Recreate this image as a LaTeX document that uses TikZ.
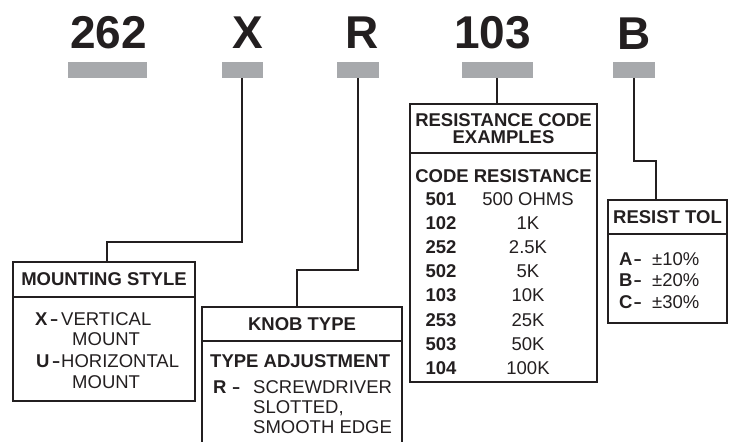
\documentclass[tikz,border=0pt]{standalone}
\usepackage{fontspec}
\setmainfont{Liberation Sans}
\usepackage{tikz}
\definecolor{BarGray}{RGB}{167,169,172}
\definecolor{InkBlack}{RGB}{35,31,32}
\usetikzlibrary{positioning}
\newcommand{\keydash}{\scalebox{0.7}[1]{--}}

\begin{document}
\begin{tikzpicture}[x=1pt, y=-1pt, font=\fontsize{18.5}{21}\selectfont, color=InkBlack]
    \tikzset{
        codechar/.style={font=\fontsize{46}{46}\selectfont\bfseries, anchor=base,
            inner sep=0pt},
        codebar/.style={rectangle, fill=BarGray, inner sep=0pt, outer sep=0pt,
            minimum height=16pt},
        headbox/.style={rectangle, draw, line width=2.4pt, inner sep=0pt,
            outer sep=0pt, font=\fontsize{18.5}{17}\selectfont\bfseries,
            align=center},
        bodybox/.style={rectangle, draw, line width=2.4pt, inner sep=0pt,
            outer sep=0pt},
        itemkey/.style={anchor=base west, inner sep=0pt,
            font=\fontsize{18.5}{21}\selectfont\bfseries},
        itemtext/.style={anchor=base west, inner sep=0pt},
        wire/.style={line width=2.3pt}
    }
    \useasboundingbox (0,0) rectangle (734,442);
    \clip (0,0) rectangle (734,442);
    \node[codechar] (seriesch) at (108.5,48) {262};
    \node[codechar] (mountch) at (247.5,48) {X};
    \node[codechar] (knobch) at (362.5,48) {R};
    \node[codechar] (valuech) at (492.5,48) {103};
    \node[codechar] (tolch) at (634,49) {B};
    \node[codebar, minimum width=79pt] (seriesbar) at (107.5,70) {};
    \node[codebar, minimum width=41pt] (mountbar) at (242,70) {};
    \node[codebar, minimum width=42pt] (knobbar) at (358,70) {};
    \node[codebar, minimum width=71pt] (valuebar) at (497,70) {};
    \node[codebar, minimum width=42pt] (tolbar) at (634,70) {};
    \node[headbox, minimum width=182pt, minimum height=35pt] (mounthead) at (104,279.5) {MOUNTING STYLE};
    \node[bodybox, minimum width=182pt, minimum height=104pt, below=0pt of mounthead] (mountbody) {};
    \node[headbox, minimum width=200pt, minimum height=34pt] (knobhead) at (302,324) {KNOB TYPE};
    \node[bodybox, minimum width=200pt, minimum height=119pt, below=0pt of knobhead] (knobbody) {};
    \node[headbox, minimum width=187pt, minimum height=49pt] (valuehead) at (503.5,128.5) {RESISTANCE CODE\\EXAMPLES};
    \node[bodybox, minimum width=187pt, minimum height=229pt, below=0pt of valuehead] (valuebody) {};
    \node[headbox, minimum width=119pt, minimum height=34pt] (tolhead) at (667.5,217) {RESIST TOL};
    \node[bodybox, minimum width=119pt, minimum height=89pt, below=0pt of tolhead] (tolbody) {};
    \node[itemkey] (xkey) at (35,325) {X\hspace{3pt}\keydash};
    \node[itemtext] (xtext) at (61,325) {VERTICAL};
    \node[itemtext] (xmore) at (72,345.5) {MOUNT};
    \node[itemkey] (ukey) at (36,367) {U\hspace{3pt}\keydash};
    \node[itemtext] (utext) at (61,367) {HORIZONTAL};
    \node[itemtext] (umore) at (72,388) {MOUNT};
    \node[itemkey] (adjust) at (210,367.5) {TYPE ADJUSTMENT};
    \node[itemkey] (rkey) at (213,393.5) {R\hspace{6pt}\keydash};
    \node[itemtext, align=left, font=\fontsize{18.5}{20}\selectfont] (rtext) at (253,433.5) {SCREWDRIVER\\SLOTTED,\\SMOOTH EDGE};
    \node[itemkey, anchor=base] (colhead) at (503.5,182.6) {CODE RESISTANCE};
    \node[inner sep=0pt, anchor=north, align=center, font=\fontsize{18.5}{24.1}\selectfont\bfseries] (codes) at (441,192.4)
        {501\\102\\252\\502\\103\\253\\503\\104};
    \node[inner sep=0pt, anchor=north, align=center, font=\fontsize{18.5}{24.1}\selectfont] (values) at (528,192.4)
        {500 OHMS\\1K\\2.5K\\5K\\10K\\25K\\50K\\100K};
    \node[itemkey] (akey) at (619,265.6) {A\hspace{1.5pt}\keydash};
    \node[itemtext] (atext) at (652,265.6) {±10\%};
    \node[itemkey] (bkey) at (619,286.6) {B\hspace{1.5pt}\keydash};
    \node[itemtext] (btext) at (652,286.6) {±20\%};
    \node[itemkey] (ckey) at (619,308.6) {C\hspace{1.5pt}\keydash};
    \node[itemtext] (ctext) at (652,308.6) {±30\%};
    \coordinate (mountjog) at (107,242);
    \coordinate (knobjog) at (297,270);
    \coordinate (toljog) at (656,161);
    \draw[wire] (mountbar.south) |- (mountjog) -- (mountjog |- mounthead.north);
    \draw[wire] (knobbar.south) |- (knobjog) -- (knobjog |- knobhead.north);
    \draw[wire] (valuebar.south) -- (valuebar.south |- valuehead.north);
    \draw[wire] (tolbar.south) |- (toljog) -- (toljog |- tolhead.north);
\end{tikzpicture}
\end{document}
